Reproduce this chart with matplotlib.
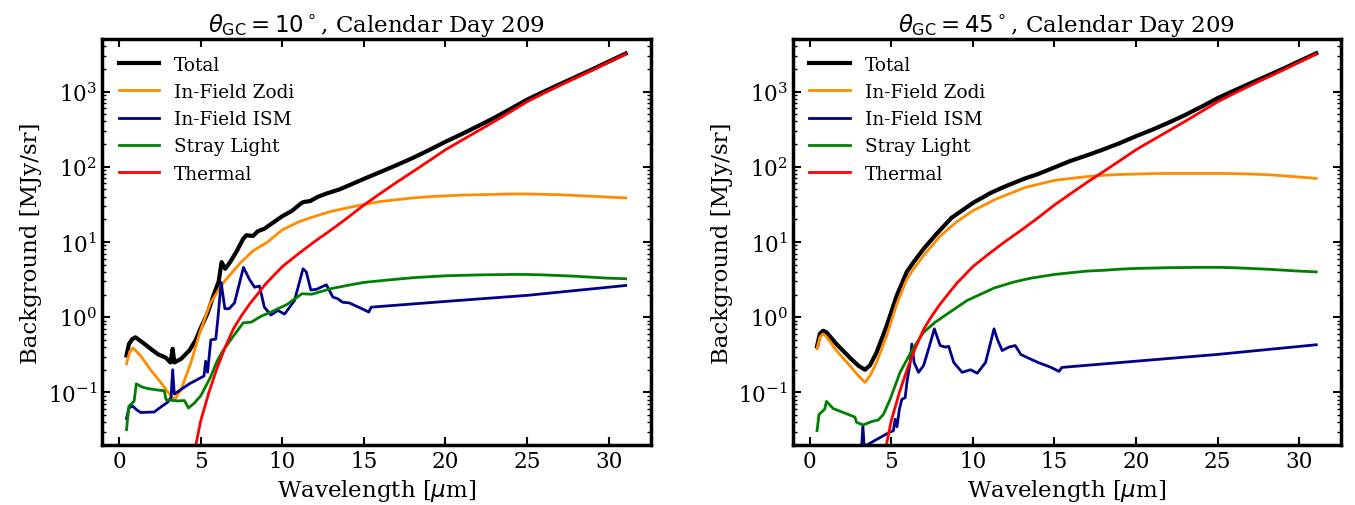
import matplotlib
matplotlib.use("Agg")
import matplotlib.pyplot as plt

plt.rcParams['font.family'] = 'DejaVu Serif'

# ---- theta_GC = 10 deg ----
wl_tot_10 = [0.45, 0.6, 0.8, 1.0, 1.5, 2.0, 2.4, 2.85, 3.15, 3.28, 3.38, 3.8, 4.3, 4.7,
             5.0, 5.4, 5.75, 6.1, 6.28, 6.5, 6.8, 7.2, 7.6, 7.8, 8.2, 8.5, 8.9, 9.5,
             10.0, 10.6, 11.1, 11.3, 11.7, 12.2, 12.7, 13.5, 14.2, 15, 16, 17, 18, 19,
             20, 21, 22, 23, 24, 25, 26, 27, 28, 29, 30, 31.05]
tot_10 = [0.31, 0.44, 0.51, 0.54, 0.45, 0.37, 0.32, 0.29, 0.25, 0.38, 0.25, 0.28, 0.36, 0.5,
          0.72, 1.1, 1.85, 3.0, 5.4, 4.4, 5.4, 7.5, 11, 12.3, 12.0, 13.9, 15, 18.5,
          22, 26, 32, 34, 35, 40, 44, 50, 58, 69, 85, 105, 131, 167,
          215, 272, 348, 448, 590, 780, 990, 1250, 1570, 1970, 2500, 3200]

wl_zodi_10 = [0.45, 0.65, 0.85, 1.3, 2.0, 2.5, 3.0, 3.4, 3.8, 4.4, 5.0, 5.6, 6.4, 7.4, 8.2,
              9.1, 10, 11, 12, 13, 14, 15, 16, 17, 18, 19, 20, 21, 22, 23, 24, 25, 26,
              27, 28, 29, 30, 31.05]
zodi_10 = [0.24, 0.35, 0.39, 0.31, 0.19, 0.14, 0.1, 0.08, 0.11, 0.25, 0.68, 1.55, 2.9, 5.2, 7.6,
           10, 14.5, 18.5, 22, 25.5, 28.5, 31.5, 34.5, 36.5, 38.5, 40, 41, 42, 42.5, 43, 43.5, 43.5, 43,
           42.5, 41.5, 40.5, 39.5, 38.5]

wl_ism_10 = [0.45, 0.6, 0.82, 1.1, 1.33, 2.15, 2.6, 2.97, 3.18, 3.28, 3.38, 4.3, 5.2, 5.3, 5.42,
             5.62, 5.92, 6.05, 6.25, 6.48, 6.75, 7.07, 7.62, 7.98, 8.3, 8.6, 8.9, 9.3, 9.73,
             10.14, 10.75, 11.27, 11.47, 11.75, 12.1, 12.7, 13.1, 13.4, 13.7, 14.1, 14.9, 15.3,
             15.45, 20, 25, 31.05]
ism_10 = [0.045, 0.062, 0.066, 0.058, 0.054, 0.055, 0.065, 0.074, 0.086, 0.2, 0.095, 0.13, 0.165, 0.26, 0.185,
          0.5, 0.51, 0.95, 2.9, 1.3, 1.3, 1.55, 4.6, 3.2, 2.5, 2.6, 1.36, 1.07, 1.23,
          1.1, 1.67, 4.4, 4.0, 2.3, 2.35, 2.7, 1.85, 1.76, 1.58, 1.55, 1.29, 1.17,
          1.36, 1.62, 1.95, 2.64]

wl_stray_10 = [0.45, 0.6, 0.75, 0.92, 1.05, 1.4, 1.8, 2.3, 2.77, 2.87, 3.6, 4.0, 4.25, 4.6, 5.0,
               5.6, 6.0, 6.3, 6.45, 7.0, 7.6, 8.1, 8.7, 9.3, 10.3, 11.2, 11.8, 13.0, 14.2, 15,
               16, 17, 18, 19, 20, 22, 24, 25, 26, 28, 30, 31.05]
stray_10 = [0.032, 0.066, 0.07, 0.077, 0.13, 0.118, 0.112, 0.108, 0.105, 0.08, 0.077, 0.078, 0.062, 0.072, 0.09,
            0.16, 0.26, 0.34, 0.38, 0.56, 0.84, 0.86, 1.03, 1.17, 1.48, 2.05, 2.02, 2.4, 2.7, 2.9,
            3.05, 3.2, 3.35, 3.45, 3.55, 3.65, 3.7, 3.7, 3.65, 3.5, 3.3, 3.25]

# ---- theta_GC = 45 deg ----
wl_tot_45 = [0.45, 0.62, 0.82, 1.03, 1.64, 2.46, 2.98, 3.39, 3.7, 4.1, 4.72, 5.34, 5.95, 6.37,
             6.98, 7.8, 8.7, 10, 11.1, 12, 13.2, 14, 15, 16, 17, 18, 19, 20, 21, 22, 23, 24,
             25, 26, 27, 28, 29, 30, 31.05]
tot_45 = [0.41, 0.6, 0.66, 0.63, 0.44, 0.29, 0.227, 0.2, 0.23, 0.34, 0.77, 1.95, 4.0, 5.4,
          8.1, 13, 21, 33, 45, 55, 70, 80, 98, 120, 142, 170, 206, 255, 311, 386, 486, 626,
          816, 1026, 1285, 1600, 2000, 2530, 3225]

wl_zodi_45 = [0.45, 0.62, 0.82, 1.03, 1.64, 2.46, 2.98, 3.39, 3.7, 4.1, 4.72, 5.34, 5.95, 6.37,
              6.98, 8.0, 9.0, 10, 11.4, 13.2, 15, 16, 17, 18, 19, 20, 21, 22, 23, 24, 25, 26,
              27, 28, 29, 30, 31.05]
zodi_45 = [0.38, 0.54, 0.6, 0.55, 0.36, 0.227, 0.167, 0.136, 0.167, 0.25, 0.57, 1.5, 3.2, 4.4,
           6.6, 12, 18.5, 26, 37, 53, 66, 70, 74, 77, 79, 80, 81, 81.5, 81.5, 81.5, 81.5, 81,
           80, 78.5, 76, 73, 70]

wl_ism_45 = [0.45, 0.8, 1.3, 2.2, 3.0, 3.15, 3.26, 3.36, 3.5, 4.83, 5.13, 5.24, 5.35, 5.5, 5.65,
             5.85, 5.96, 6.16, 6.26, 6.4, 6.67, 6.98, 7.29, 7.64, 8.0, 8.32, 8.52, 8.83, 9.34,
             9.86, 10.27, 10.78, 11.3, 11.5, 11.8, 12.2, 12.6, 12.94, 13.35, 14.0, 14.8, 15.28,
             15.46, 20, 25, 31.05]
ism_45 = [0.007, 0.011, 0.009, 0.009, 0.012, 0.014, 0.036, 0.016, 0.02, 0.029, 0.031, 0.044, 0.035, 0.06, 0.081,
          0.085, 0.136, 0.25, 0.44, 0.25, 0.185, 0.227, 0.38, 0.7, 0.42, 0.4, 0.41, 0.25, 0.185,
          0.2, 0.18, 0.25, 0.7, 0.51, 0.36, 0.4, 0.42, 0.32, 0.29, 0.25, 0.215, 0.19,
          0.215, 0.26, 0.32, 0.43]

wl_stray_45 = [0.45, 0.57, 0.82, 0.92, 1.03, 1.44, 2.26, 2.77, 2.87, 3.29, 3.8, 4.2, 4.52, 4.93,
               5.54, 6.26, 6.98, 7.7, 8.42, 9.65, 11.3, 12.5, 13.55, 15, 16, 17, 18, 19, 20, 22,
               24, 25, 26, 28, 30, 31.05]
stray_45 = [0.031, 0.051, 0.057, 0.06, 0.076, 0.061, 0.052, 0.047, 0.04, 0.037, 0.041, 0.043, 0.051, 0.081,
            0.185, 0.36, 0.63, 0.86, 1.1, 1.67, 2.44, 2.93, 3.3, 3.7, 3.9, 4.1, 4.2, 4.35, 4.45, 4.55,
            4.6, 4.6, 4.55, 4.35, 4.1, 4.0]

# thermal emission (same in both panels)
wl_therm = [4.5, 4.7, 5.0, 5.5, 6.0, 6.5, 7.0, 7.5, 8.0, 9.0, 10, 11, 12, 13, 14, 15, 16, 17,
            18, 19, 20, 21, 22, 23, 24, 25, 26, 27, 28, 29, 30, 31.05]
therm = [0.012, 0.02, 0.042, 0.1, 0.21, 0.4, 0.7, 1.05, 1.5, 2.8, 4.7, 7.0, 10.2, 14.5, 21, 31, 44, 62,
         86, 120, 168, 225, 300, 400, 540, 730, 940, 1200, 1520, 1920, 2450, 3150]

panels = [
    (r'$\theta_{\rm GC} = 10^\circ$, Calendar Day 209',
     (wl_tot_10, tot_10), (wl_zodi_10, zodi_10), (wl_ism_10, ism_10), (wl_stray_10, stray_10)),
    (r'$\theta_{\rm GC} = 45^\circ$, Calendar Day 209',
     (wl_tot_45, tot_45), (wl_zodi_45, zodi_45), (wl_ism_45, ism_45), (wl_stray_45, stray_45)),
]

fig, axes = plt.subplots(1, 2, figsize=(13.55, 5.06), dpi=100)
fig.subplots_adjust(left=0.0753, right=0.9897, bottom=0.1186, top=0.921, wspace=0.259)

for ax, (title, tot, zodi, ism, stray) in zip(axes, panels):
    ax.plot(*tot, color='black', lw=3, label='Total')
    ax.plot(*zodi, color='darkorange', lw=2, label='In-Field Zodi')
    ax.plot(*ism, color='darkblue', lw=2, label='In-Field ISM')
    ax.plot(*stray, color='green', lw=2, label='Stray Light')
    ax.plot(wl_therm, therm, color='red', lw=2, label='Thermal')
    ax.set_yscale('log')
    ax.set_ylim(0.02, 5000)
    ax.set_xlim(-1.05, 32.57)
    ax.set_title(title, fontsize=16.5)
    ax.set_xlabel(r'Wavelength [$\mu$m]', fontsize=16.5)
    ax.set_ylabel('Background [MJy/sr]', fontsize=16.5)
    ax.tick_params(which='both', direction='in', top=True, right=True, labelsize=15.5)
    ax.tick_params(which='major', length=6, width=1.5)
    ax.tick_params(which='minor', length=3, width=1)
    for s in ax.spines.values():
        s.set_linewidth(2.5)
    ax.legend(loc='upper left', frameon=False, fontsize=13.3, handlelength=2.2)

plt.savefig('out.png')
